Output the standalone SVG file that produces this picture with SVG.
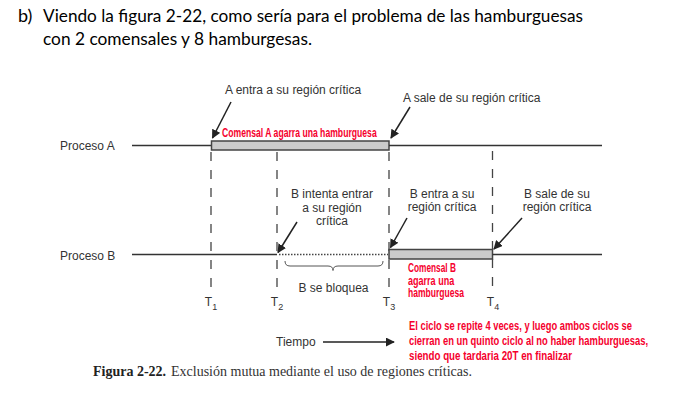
<svg xmlns="http://www.w3.org/2000/svg" width="674" height="419" viewBox="0 0 674 419">
<style>
.title{font-family:Lato,"Open Sans","Liberation Sans",sans-serif;font-size:18px;fill:#000}
.lbl{font-family:"Liberation Sans",Arial,sans-serif;font-size:12px;fill:#333}
.red{font-family:"Liberation Sans",Arial,sans-serif;font-weight:bold;font-size:12px;fill:#f5002d}
.cap{font-family:"Liberation Serif","Times New Roman",serif;font-size:14px;fill:#333}
.ln{stroke:#333;stroke-width:1.5;fill:none}
.dash{stroke:#444;stroke-width:1.3;stroke-dasharray:9 9;fill:none}
.bar{fill:#cbcbcb;stroke:#444;stroke-width:1.5}
.arr{stroke:#222;stroke-width:1.5;fill:none;marker-end:url(#ah)}
</style>
<defs>
<marker id="ah" viewBox="0 0 10 10" refX="9" refY="5" markerWidth="9" markerHeight="9" markerUnits="userSpaceOnUse" orient="auto">
<path d="M0,0 L10,5 L0,10 z" fill="#222"/>
</marker>
</defs>
<rect width="674" height="419" fill="#fff"/>
<g id="title">
<text class="title" x="18" y="22">b)</text>
<text class="title" x="43" y="22" textLength="540" lengthAdjust="spacingAndGlyphs">Viendo la figura 2-22, como sería para el problema de las hamburguesas</text>
<text class="title" x="43" y="45" textLength="269" lengthAdjust="spacingAndGlyphs">con 2 comensales y 8 hamburgesas.</text>
</g>
<g id="timelines">
<line class="dash" x1="211" y1="152" x2="211" y2="294"/>
<line class="dash" x1="277" y1="152" x2="277" y2="294"/>
<line class="dash" x1="389" y1="152" x2="389" y2="294"/>
<line class="dash" x1="492.5" y1="151" x2="492.5" y2="294"/>
<text class="lbl" x="211" y="306" font-size="13" text-anchor="middle">T<tspan font-size="9" dy="4">1</tspan></text>
<text class="lbl" x="277" y="306" font-size="13" text-anchor="middle">T<tspan font-size="9" dy="4">2</tspan></text>
<text class="lbl" x="389" y="306" font-size="13" text-anchor="middle">T<tspan font-size="9" dy="4">3</tspan></text>
<text class="lbl" x="493" y="306" font-size="13" text-anchor="middle">T<tspan font-size="9" dy="4">4</tspan></text>
</g>
<g id="procesoA">
<text class="lbl" x="60" y="150">Proceso A</text>
<line class="ln" x1="132" y1="145.5" x2="212" y2="145.5"/>
<rect class="bar" x="211.5" y="141" width="177.5" height="9"/>
<line class="ln" x1="389" y1="145.5" x2="602" y2="145.5"/>
<g transform="translate(222,137) scale(0.7,1)"><text class="red" x="0" y="0" textLength="221" lengthAdjust="spacingAndGlyphs">Comensal A agarra una hamburguesa</text></g>
</g>
<g id="procesoB">
<text class="lbl" x="60" y="260">Proceso B</text>
<line class="ln" x1="132" y1="254.5" x2="277" y2="254.5"/>
<line x1="279" y1="254.5" x2="388" y2="254.5" stroke="#444" stroke-width="1.3" stroke-dasharray="1.5 1.5"/>
<rect class="bar" x="389" y="249.5" width="103.5" height="9.5"/>
<line class="ln" x1="492.5" y1="254.5" x2="602" y2="254.5"/>
<path d="M285,261 Q285,266 290,266 L328,266 Q333,266 333,270.5 Q333,266 338,266 L378,266 Q383,266 383,261" stroke="#555" stroke-width="1" fill="none"/>
<text class="lbl" x="333.5" y="292" text-anchor="middle">B se bloquea</text>
<g transform="translate(408,272) scale(0.7,1)"><text class="red" x="0" y="0" textLength="68.5" lengthAdjust="spacingAndGlyphs">Comensal B</text></g>
<g transform="translate(408,284.5) scale(0.7,1)"><text class="red" x="0" y="0" textLength="66" lengthAdjust="spacingAndGlyphs">agarra una</text></g>
<g transform="translate(408,297) scale(0.7,1)"><text class="red" x="0" y="0" textLength="80" lengthAdjust="spacingAndGlyphs">hamburguesa</text></g>
</g>
<g id="labels">
<text class="lbl" x="225" y="94">A entra a su región crítica</text>
<text class="lbl" x="403" y="102">A sale de su región crítica</text>
<text class="lbl" x="332" y="198" text-anchor="middle">B intenta entrar</text>
<text class="lbl" x="332" y="211.5" text-anchor="middle">a su región</text>
<text class="lbl" x="332" y="225" text-anchor="middle">crítica</text>
<text class="lbl" x="442" y="198" text-anchor="middle">B entra a su</text>
<text class="lbl" x="442" y="211" text-anchor="middle">región crítica</text>
<text class="lbl" x="557" y="198" text-anchor="middle">B sale de su</text>
<text class="lbl" x="557" y="211" text-anchor="middle">región crítica</text>
</g>
<g id="connectors">
<line class="arr" x1="231" y1="102" x2="212.5" y2="138"/>
<line class="arr" x1="410" y1="107" x2="391" y2="138"/>
<line class="arr" x1="297" y1="222" x2="278" y2="252.5"/>
<line class="arr" x1="407" y1="218" x2="390.5" y2="247.5"/>
<line class="arr" x1="522" y1="218" x2="494" y2="249"/>
<line class="arr" x1="323" y1="342" x2="394" y2="342"/>
</g>
<g id="footer">
<text class="lbl" x="276" y="346">Tiempo</text>
<g transform="translate(409,330) scale(0.7,1)"><text class="red" x="0" y="0" textLength="318.5" lengthAdjust="spacingAndGlyphs">El ciclo se repite 4 veces, y luego ambos ciclos se</text></g>
<g transform="translate(409,345) scale(0.7,1)"><text class="red" x="0" y="0" textLength="341.5" lengthAdjust="spacingAndGlyphs">cierran en un quinto ciclo al no haber hamburguesas,</text></g>
<g transform="translate(409,359.5) scale(0.7,1)"><text class="red" x="0" y="0" textLength="233" lengthAdjust="spacingAndGlyphs">siendo que tardaria 20T en finalizar</text></g>
<text class="cap" x="93" y="376"><tspan font-weight="bold" fill="#222">Figura 2-22.</tspan><tspan x="171">Exclusión mutua mediante el uso de regiones críticas.</tspan></text>
</g>
</svg>
